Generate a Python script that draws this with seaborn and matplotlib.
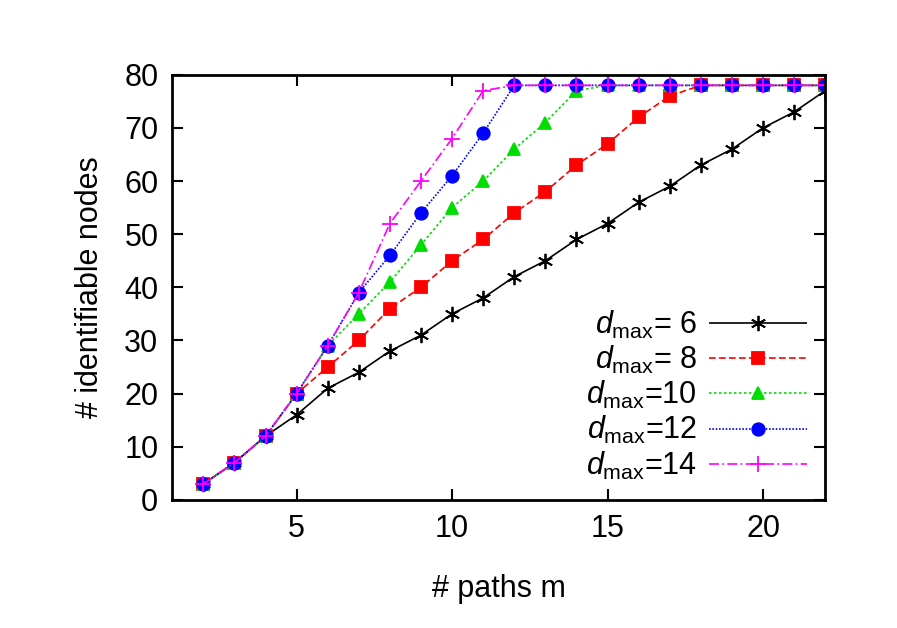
import matplotlib
matplotlib.use("Agg")
import matplotlib.pyplot as plt
import seaborn as sns
import pandas as pd

m = list(range(2, 23))
d6 = [3, 7, 12, 16, 21, 24, 28, 31, 35, 38, 42, 45, 49, 52, 56, 59, 63, 66, 70, 73, 77]
d8 = [3, 7, 12, 20, 25, 30, 36, 40, 45, 49, 54, 58, 63, 67, 72, 76, 78, 78, 78, 78, 78]
d10 = [3, 7, 12, 20, 29, 35, 41, 48, 55, 60, 66, 71, 77, 78, 78, 78, 78, 78, 78, 78, 78]
d12 = [3, 7, 12, 20, 29, 39, 46, 54, 61, 69, 78, 78, 78, 78, 78, 78, 78, 78, 78, 78, 78]
d14 = [3, 7, 12, 20, 29, 39, 52, 60, 68, 77, 78, 78, 78, 78, 78, 78, 78, 78, 78, 78, 78]

series = [
    (r"$d_{\mathrm{max}}$= 6", d6, "black", (6, 2, 0), (0, ()), 11),
    (r"$d_{\mathrm{max}}$= 8", d8, "#ff0000", "s", (0, (4, 2)), 8),
    (r"$d_{\mathrm{max}}$=10", d10, "#00dd00", "^", (0, (1.5, 1.5)), 8),
    (r"$d_{\mathrm{max}}$=12", d12, "#0000ff", "o", (0, (1, 1)), 9),
    (r"$d_{\mathrm{max}}$=14", d14, "#ff00ff", "+", (0, (6, 2, 1, 2)), 11),
]

plt.rcParams["font.family"] = "Liberation Sans"
plt.rcParams["mathtext.fontset"] = "custom"
plt.rcParams["mathtext.it"] = "Liberation Sans:italic"
plt.rcParams["mathtext.rm"] = "Liberation Sans"
plt.rcParams["font.size"] = 22
fig = plt.figure(figsize=(8.97, 6.28), dpi=100)
ax = fig.add_axes([0.192, 0.204, 0.728, 0.677])
for label, vals, col, mk, ls, ms in series:
    df = pd.DataFrame({"m": m, "n": vals})
    sns.lineplot(data=df, x="m", y="n", ax=ax, color=col, marker=mk, linestyle=ls,
                 markersize=ms, linewidth=1.2, label=label, markeredgecolor=col,
                 markeredgewidth=1.3)

ax.set_xlim(1, 22)
ax.set_ylim(0, 80)
ax.set_xticks([5, 10, 15, 20])
ax.set_yticks(range(0, 81, 10))
ax.set_xlabel("# paths m", fontsize=22, labelpad=22)
ax.set_ylabel("# identifiable nodes", fontsize=22, labelpad=14)
ax.tick_params(direction="in", top=True, right=True, length=8, width=1.5, labelsize=22, pad=10)
for s in ax.spines.values():
    s.set_linewidth(2)
leg = ax.legend(loc="lower right", frameon=False, markerfirst=False, fontsize=22,
                handlelength=3.2, labelspacing=0.1, borderaxespad=0.2, handletextpad=0.4)
for t in leg.get_texts():
    t.set_ha("right")
fig.savefig("out.png", dpi=100)
